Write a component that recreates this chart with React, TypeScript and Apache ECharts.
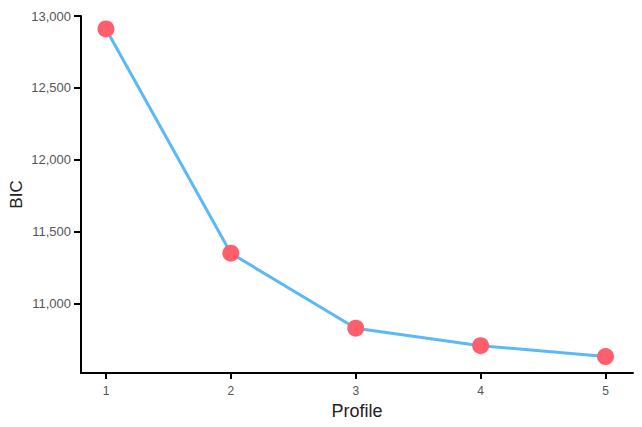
import React, { useEffect, useRef } from "react";
import * as echarts from "echarts";

const profiles = [1, 2, 3, 4, 5];
const bic = [12910, 11352, 10831, 10710, 10634];
const yTicks = [11000, 11500, 12000, 12500, 13000];

export default function App() {
  const ref = useRef<HTMLDivElement>(null);
  useEffect(() => {
    document.body.style.margin = "0";
    if (!ref.current) return;
    const chart = echarts.init(ref.current, undefined, { renderer: "svg" });
    const font = "Liberation Sans, Arial, sans-serif";
    chart.setOption({
      animation: false,
      grid: { left: 81, right: 9, top: 16, bottom: 54, containLabel: false, outerBoundsMode: "none" },
      xAxis: {
        type: "value",
        min: 0.8,
        max: 5.22,
        name: "Profile",
        nameLocation: "middle",
        nameGap: 29,
        nameMoveOverlap: false,
        nameTextStyle: { fontSize: 18, color: "#222", fontFamily: font },
        axisLine: { show: true, lineStyle: { color: "#000", width: 2 } },
        axisTick: { show: true, length: 6, lineStyle: { color: "#000", width: 2 }, customValues: profiles },
        axisLabel: { fontSize: 12, color: "#555", fontFamily: font, margin: 12, customValues: profiles },
        splitLine: { show: false },
      },
      yAxis: {
        type: "value",
        min: 10520,
        max: 13000,
        name: "BIC",
        nameLocation: "middle",
        nameGap: 56,
        nameMoveOverlap: false,
        nameTextStyle: { fontSize: 17, color: "#222", fontFamily: font },
        axisLine: { show: true, lineStyle: { color: "#000", width: 2 } },
        axisTick: { show: true, length: 7, lineStyle: { color: "#000", width: 2 }, customValues: yTicks },
        axisLabel: {
          fontSize: 13,
          color: "#555",
          fontFamily: font,
          margin: 10,
          customValues: yTicks,
          formatter: (v: number) => v.toLocaleString("en-US"),
        },
        splitLine: { show: false },
      },
      series: [
        {
          type: "line",
          data: profiles.map((p, i) => [p, bic[i]]),
          lineStyle: { color: "#5bb9f7", width: 3 },
          symbol: "circle",
          symbolSize: 17,
          itemStyle: { color: "#ff5f6d" },
          z: 3,
        },
      ],
    });
    return () => chart.dispose();
  }, []);
  return <div ref={ref} style={{ width: 642, height: 427 }} />;
}
